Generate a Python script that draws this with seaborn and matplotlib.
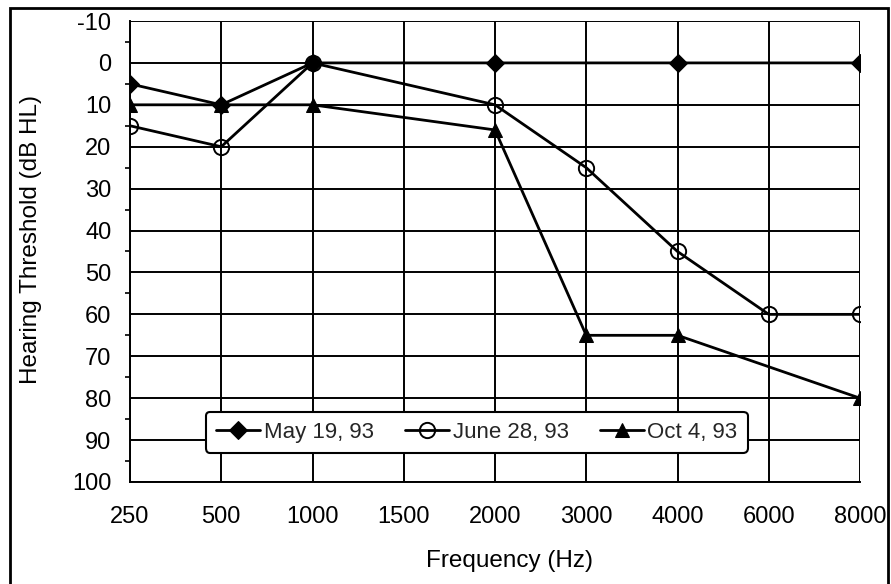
import numpy as np
import pandas as pd
import matplotlib
matplotlib.use("Agg")
import matplotlib.pyplot as plt
import seaborn as sns
from matplotlib.patches import Rectangle
from matplotlib.ticker import MultipleLocator

freq_labels = ["250", "500", "1000", "1500", "2000", "3000", "4000", "6000", "8000"]
may_19 = [5, 10, 0, np.nan, 0, np.nan, 0, np.nan, 0]
june_28 = [15, 20, 0, np.nan, 10, 25, 45, 60, 60]
oct_4 = [10, 10, 10, np.nan, 16, 65, 65, np.nan, 80]
series_names = ["May 19, 93", "June 28, 93", "Oct 4, 93"]

sns.set_theme(style="white")
plt.rcParams["font.family"] = ["Liberation Sans", "DejaVu Sans"]
plt.rcParams["axes.unicode_minus"] = False

fig = plt.figure(figsize=(8.91, 5.84), dpi=100)
ax = fig.add_axes([130/891, 1-482/584, 730/891, 461/584])

pos = np.arange(len(freq_labels))
styles = [
    dict(marker="D", markersize=9, markerfacecolor="black", markeredgecolor="black"),
    dict(marker="o", markersize=11, markerfacecolor="none", markeredgecolor="black", markeredgewidth=1.4),
    dict(marker="^", markersize=10.5, markerfacecolor="black", markeredgecolor="black"),
]
for name, vals, st in zip(series_names, [may_19, june_28, oct_4], styles):
    df = pd.DataFrame({"x": pos, "y": vals}).dropna()
    sns.lineplot(data=df, x="x", y="y", ax=ax, color="black", linewidth=2.0,
                 label=name, sort=False, estimator=None, **st)

ax.set_xlim(0, len(freq_labels) - 1)
ax.set_ylim(100, -10)
ax.set_xticks(pos)
ax.set_xticklabels(freq_labels)
ax.set_yticks(np.arange(-10, 101, 10))
ax.yaxis.set_minor_locator(MultipleLocator(5))
ax.grid(True, which="major", color="black", linewidth=1.4)
ax.set_axisbelow(True)
for s in ["top", "right"]:
    ax.spines[s].set_visible(False)
ax.spines["left"].set_color("black")
ax.spines["bottom"].set_color("black")
ax.spines["left"].set_linewidth(1.4)
ax.spines["bottom"].set_linewidth(1.4)
ax.tick_params(axis="both", which="major", direction="out", length=7.5, width=1.4,
               color="black", labelsize=17, labelcolor="black")
ax.tick_params(axis="y", which="major", pad=6)
ax.tick_params(axis="x", which="major", pad=9, length=8)
ax.tick_params(axis="y", which="minor", direction="out", length=3.5, width=1.2, color="black", left=True)

ax.set_xlabel("Frequency (Hz)", fontsize=17.5, color="black")
ax.set_ylabel("Hearing Threshold (dB HL)", fontsize=17.5, color="black")
ax.xaxis.set_label_coords(0.52, -0.148)
ax.yaxis.set_label_coords(-0.12, 0.525)

leg = ax.legend(ncol=3, loc="center", bbox_to_anchor=(0.475, 0.108), fontsize=16,
                frameon=True, fancybox=True, edgecolor="black", framealpha=1,
                handlelength=2.0, handletextpad=0.15, columnspacing=1.4,
                borderpad=0.45)
leg.get_frame().set_linewidth(1.5)

fig.patches.append(Rectangle((10/891, -0.02), 878/891, 1.02 - 8/584, transform=fig.transFigure,
                             fill=False, edgecolor="black", linewidth=2, clip_on=False))

fig.savefig("out.png", dpi=100, facecolor="white")
